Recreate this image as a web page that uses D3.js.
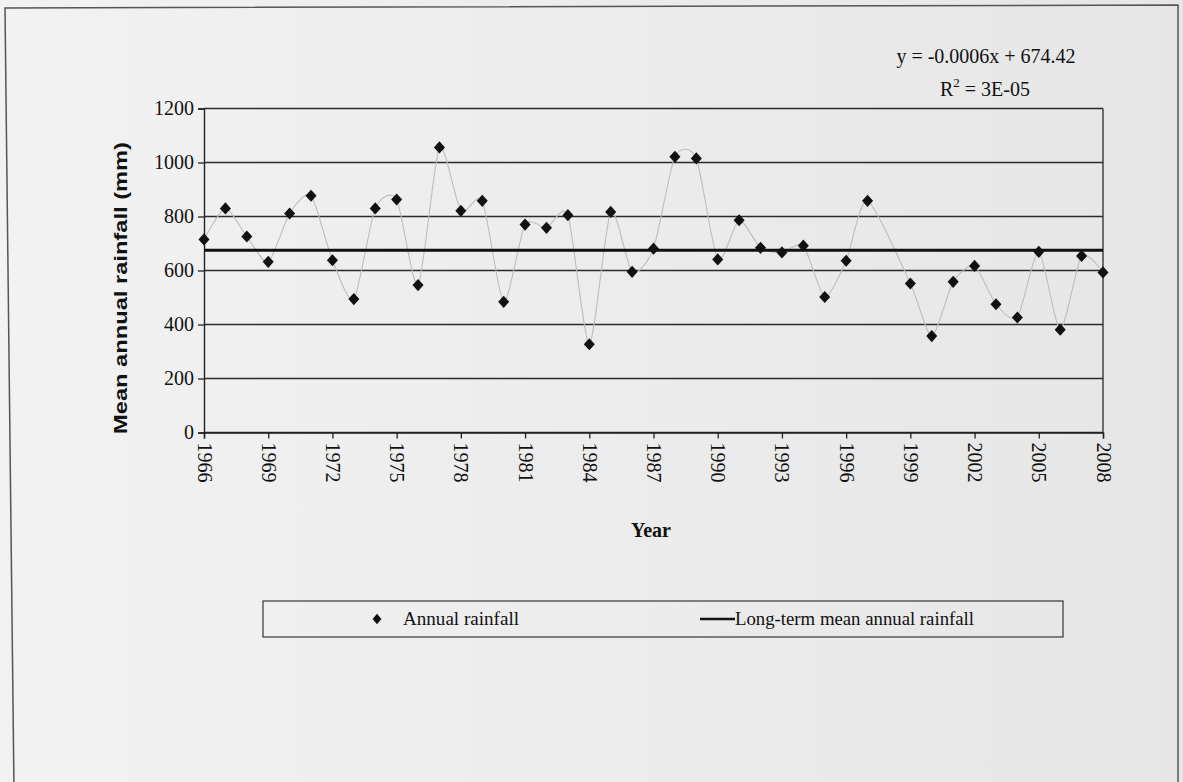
<!DOCTYPE html>
<html>
<head>
<meta charset="utf-8">
<script src="https://cdn.jsdelivr.net/npm/d3@7/dist/d3.min.js"></script>
<style>
  html, body { margin: 0; padding: 0; background: #ebebeb; }
  svg { display: block; }
</style>
</head>
<body>
<svg id="chart" width="1183" height="782"></svg>
<script>
// ---- data ----
const years = [1966,1967,1968,1969,1970,1971,1972,1973,1974,1975,1976,1977,1978,1979,1980,
  1981,1982,1983,1984,1985,1986,1987,1988,1989,1990,1991,1992,1993,1994,1995,1996,1997,
  1999,2000,2001,2002,2003,2004,2005,2006,2007,2008];
const rainfall = [715,830,726,632,811,877,638,494,830,863,546,1056,821,858,484,
  770,758,805,327,817,595,681,1021,1015,641,786,684,667,692,502,636,858,
  552,357,558,617,475,426,669,381,654,593];
const meanYears = [1966, 2008];
const meanValues = [675, 675];
const yTicks = [0,200,400,600,800,1000,1200];
const xTicks = [1966,1969,1972,1975,1978,1981,1984,1987,1990,1993,1996,1999,2002,2005,2008];
const equationText = "y = -0.0006x + 674.42";
const r2Text = "3E-05";
const legendLabels = ["Annual rainfall", "Long-term mean annual rainfall"];

const svg = d3.select("#chart");
const serif = "'Liberation Serif', 'Times New Roman', serif";
const sans = "'Liberation Sans', Arial, sans-serif";

// background
const defs = svg.append("defs");
const grad = defs.append("linearGradient").attr("id","bg").attr("x1","0").attr("x2","1").attr("y1","0").attr("y2","0");
grad.append("stop").attr("offset","0").attr("stop-color","#f2f2f2");
grad.append("stop").attr("offset","1").attr("stop-color","#e6e6e6");
svg.append("rect").attr("width",1183).attr("height",782).attr("fill","url(#bg)");

// outer frame
svg.append("path").attr("d","M14,790 L5,8 L1178,5 L1178,790")
  .attr("fill","none").attr("stroke","#555").attr("stroke-width",1.5);

const x = d3.scaleLinear().domain([1966,2008]).range([204,1103]);
const y = d3.scaleLinear().domain([0,1200]).range([432.5,108.5]);

// gridlines
svg.append("g").selectAll("line").data(yTicks).join("line")
  .attr("x1",x(1966)).attr("x2",x(2008))
  .attr("y1",d=>y(d)).attr("y2",d=>y(d))
  .attr("stroke","#2a2a2a").attr("stroke-width",1.3);

// right border
svg.append("line").attr("x1",x(2008)).attr("x2",x(2008)).attr("y1",y(1200)).attr("y2",y(0))
  .attr("stroke","#2a2a2a").attr("stroke-width",1.3);

// y axis
const yAxis = svg.append("g").attr("transform",`translate(${x(1966)},0)`)
  .call(d3.axisLeft(y).tickValues(yTicks).tickSize(6).tickPadding(4).tickFormat(d3.format("d")));
yAxis.select(".domain").attr("stroke","#222").attr("stroke-width",1.4);
yAxis.selectAll(".tick line").attr("stroke","#222").attr("stroke-width",1.3);
yAxis.selectAll("text").attr("font-family",serif).attr("font-size",20).attr("fill","#111");

// x axis
const xAxis = svg.append("g").attr("transform",`translate(0,${y(0)})`)
  .call(d3.axisBottom(x).tickValues(xTicks).tickSize(6).tickFormat(d3.format("d")));
xAxis.select(".domain").attr("stroke","#222").attr("stroke-width",1.4);
xAxis.selectAll(".tick line").attr("stroke","#222").attr("stroke-width",1.3);
xAxis.selectAll("text")
  .attr("font-family",serif).attr("font-size",20).attr("fill","#111")
  .attr("transform","rotate(90)")
  .attr("text-anchor","start")
  .attr("x",10).attr("y",0).attr("dy","0.35em");

// smoothed connecting line
const pts = years.map((yr,i)=>[yr, rainfall[i]]);
svg.append("path").datum(pts)
  .attr("d", d3.line().x(d=>x(d[0])).y(d=>y(d[1])).curve(d3.curveCardinal.tension(0.3)))
  .attr("fill","none").attr("stroke","#bdbdbd").attr("stroke-width",1.1);

// mean line
const meanPts = meanYears.map((yr,i)=>[yr, meanValues[i]]);
svg.append("path").datum(meanPts)
  .attr("d", d3.line().x(d=>x(d[0])).y(d=>y(d[1])))
  .attr("stroke","#111").attr("stroke-width",3.2).attr("fill","none");

// diamonds
const diamond = d3.symbol().type(d3.symbolDiamond2).size(78);
svg.append("g").selectAll("path").data(pts).join("path")
  .attr("d", diamond)
  .attr("transform", d=>`translate(${x(d[0])},${y(d[1])}) scale(1,1.1)`)
  .attr("fill","#111");

// axis titles
svg.append("text").attr("x",651).attr("y",537).attr("text-anchor","middle")
  .attr("font-family",serif).attr("font-weight","bold").attr("font-size",20).attr("fill","#111")
  .text("Year");
svg.append("text").attr("transform","translate(127,288) rotate(-90)").attr("text-anchor","middle")
  .attr("font-family",sans).attr("font-weight","bold").attr("font-size",19).attr("fill","#111")
  .attr("textLength",292).attr("lengthAdjust","spacingAndGlyphs")
  .text("Mean annual rainfall (mm)");

// equation
svg.append("text").attr("x",986).attr("y",63).attr("text-anchor","middle")
  .attr("font-family",serif).attr("font-size",20).attr("fill","#111")
  .text(equationText);
const r2 = svg.append("text").attr("x",985).attr("y",96).attr("text-anchor","middle")
  .attr("font-family",serif).attr("font-size",20).attr("fill","#111");
r2.append("tspan").text("R");
r2.append("tspan").attr("font-size",13).attr("dy",-9).text("2");
r2.append("tspan").attr("dy",9).text(" = " + r2Text);

// legend
const lg = svg.append("g");
lg.append("rect").attr("x",263).attr("y",601).attr("width",800).attr("height",36)
  .attr("fill","none").attr("stroke","#444").attr("stroke-width",1.3);
lg.append("path").attr("d", d3.symbol().type(d3.symbolDiamond2).size(50))
  .attr("transform","translate(377,619) scale(1,1.2)").attr("fill","#111");
lg.append("text").attr("x",403).attr("y",625).attr("font-family",serif).attr("font-size",18)
  .attr("fill","#111").attr("textLength",116).attr("lengthAdjust","spacingAndGlyphs").text(legendLabels[0]);
lg.append("line").attr("x1",700).attr("x2",735).attr("y1",619).attr("y2",619)
  .attr("stroke","#111").attr("stroke-width",2.5);
lg.append("text").attr("x",735).attr("y",625).attr("font-family",serif).attr("font-size",18)
  .attr("fill","#111").attr("textLength",239).attr("lengthAdjust","spacingAndGlyphs").text(legendLabels[1]);
</script>
</body>
</html>
